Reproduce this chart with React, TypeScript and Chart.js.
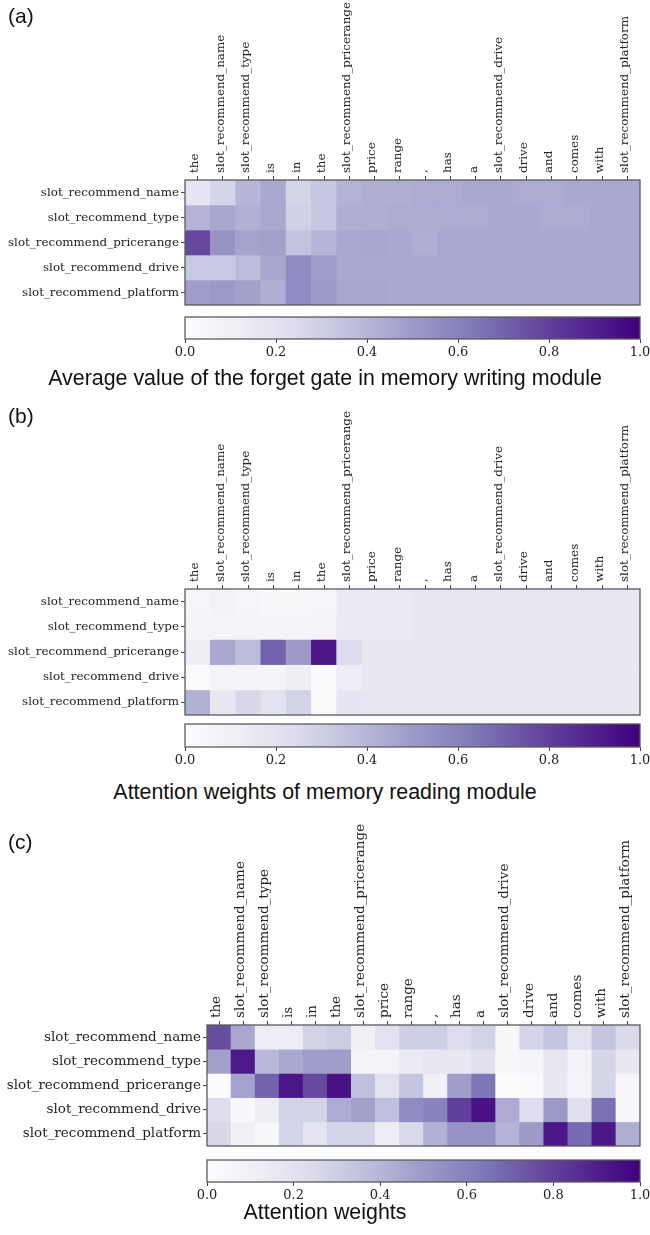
import React, { useEffect, useRef } from "react";
import { Chart, registerables } from "chart.js";
Chart.register(...registerables);

const columns = ["the", "slot_recommend_name", "slot_recommend_type", "is", "in", "the", "slot_recommend_pricerange", "price", "range", ",", "has", "a", "slot_recommend_drive", "drive", "and", "comes", "with", "slot_recommend_platform"];
const rows = ["slot_recommend_name", "slot_recommend_type", "slot_recommend_pricerange", "slot_recommend_drive", "slot_recommend_platform"];
const colorbarTicks = [0, 0.2, 0.4, 0.6, 0.8, 1.0];
const colorbarRange = [0, 1];

// (a) Average value of the forget gate in memory writing module
const forgetGate = [
  [0.18, 0.27, 0.40, 0.45, 0.27, 0.33, 0.41, 0.43, 0.43, 0.44, 0.44, 0.45, 0.45, 0.44, 0.44, 0.45, 0.45, 0.45],
  [0.41, 0.46, 0.42, 0.45, 0.29, 0.33, 0.43, 0.43, 0.44, 0.44, 0.44, 0.44, 0.45, 0.45, 0.44, 0.44, 0.45, 0.45],
  [0.78, 0.53, 0.47, 0.48, 0.35, 0.40, 0.45, 0.46, 0.45, 0.43, 0.45, 0.45, 0.45, 0.45, 0.45, 0.45, 0.45, 0.45],
  [0.32, 0.32, 0.38, 0.46, 0.56, 0.49, 0.45, 0.45, 0.45, 0.45, 0.45, 0.45, 0.45, 0.45, 0.45, 0.45, 0.45, 0.45],
  [0.49, 0.51, 0.48, 0.43, 0.56, 0.50, 0.46, 0.46, 0.45, 0.45, 0.45, 0.45, 0.45, 0.45, 0.45, 0.45, 0.45, 0.45],
];

// (b) Attention weights of memory reading module
const readingAttention = [
  [0.05, 0.08, 0.05, 0.04, 0.04, 0.05, 0.15, 0.15, 0.15, 0.16, 0.16, 0.16, 0.16, 0.16, 0.16, 0.16, 0.16, 0.16],
  [0.06, 0.06, 0.06, 0.06, 0.06, 0.07, 0.15, 0.15, 0.15, 0.16, 0.16, 0.16, 0.16, 0.16, 0.16, 0.16, 0.16, 0.16],
  [0.12, 0.45, 0.38, 0.70, 0.50, 0.93, 0.24, 0.17, 0.16, 0.16, 0.16, 0.16, 0.16, 0.16, 0.16, 0.16, 0.16, 0.16],
  [0.01, 0.07, 0.06, 0.06, 0.12, 0.02, 0.13, 0.16, 0.16, 0.16, 0.16, 0.16, 0.16, 0.16, 0.16, 0.16, 0.16, 0.16],
  [0.42, 0.16, 0.26, 0.20, 0.28, 0.03, 0.18, 0.17, 0.16, 0.16, 0.16, 0.16, 0.16, 0.16, 0.16, 0.16, 0.16, 0.16],
];

// (c) Attention weights
const attentionWeights = [
  [0.76, 0.45, 0.13, 0.13, 0.28, 0.31, 0.10, 0.20, 0.30, 0.30, 0.23, 0.28, 0.04, 0.27, 0.34, 0.20, 0.34, 0.25],
  [0.48, 0.92, 0.39, 0.45, 0.49, 0.49, 0.07, 0.07, 0.14, 0.17, 0.16, 0.22, 0.04, 0.06, 0.17, 0.08, 0.27, 0.16],
  [0.00, 0.47, 0.70, 0.93, 0.77, 0.94, 0.36, 0.20, 0.34, 0.10, 0.49, 0.64, 0.00, 0.03, 0.16, 0.07, 0.27, 0.05],
  [0.23, 0.04, 0.12, 0.28, 0.28, 0.44, 0.48, 0.36, 0.56, 0.60, 0.80, 0.94, 0.44, 0.23, 0.51, 0.22, 0.66, 0.05],
  [0.26, 0.10, 0.04, 0.27, 0.19, 0.27, 0.27, 0.13, 0.25, 0.42, 0.53, 0.53, 0.41, 0.50, 0.93, 0.68, 0.93, 0.43],
];

const purplesStops = ["#fcfbfd", "#efedf5", "#dadaeb", "#bcbddc", "#9e9ac8", "#807dba", "#6a51a3", "#54278f", "#3f007d"];

function hexToRgb(h: string) {
  return [parseInt(h.slice(1, 3), 16), parseInt(h.slice(3, 5), 16), parseInt(h.slice(5, 7), 16)];
}

function purples(v: number) {
  const t = Math.max(0, Math.min(1, v)) * (purplesStops.length - 1);
  const i = Math.min(Math.floor(t), purplesStops.length - 2);
  const f = t - i;
  const a = hexToRgb(purplesStops[i]);
  const b = hexToRgb(purplesStops[i + 1]);
  const c = a.map((x, k) => Math.round(x + (b[k] - x) * f));
  return `rgb(${c[0]},${c[1]},${c[2]})`;
}

const framePlugin = {
  id: "frame",
  afterDatasetsDraw(chart: any) {
    const { ctx, chartArea: a } = chart;
    ctx.save();
    ctx.strokeStyle = "#5a5a5a";
    ctx.lineWidth = 1.3;
    ctx.strokeRect(a.left, a.top, a.right - a.left, a.bottom - a.top);
    ctx.restore();
  },
};

const SERIF = "'DejaVu Serif', serif";
const SANS = "'Liberation Sans', Arial, sans-serif";

function Heatmap({ values, areaTop, areaLeft, areaBottom, fontSize, labelH, labelOffset }: any) {
  const ref = useRef<HTMLCanvasElement>(null);
  const canvasTop = areaTop - labelH;
  const height = areaBottom - canvasTop + 3;
  useEffect(() => {
    const chart = new Chart(ref.current!, {
      type: "bar",
      data: {
        labels: columns,
        datasets: rows.map((r, i) => ({
          label: r,
          data: columns.map(() => [i, i + 1]) as any,
          backgroundColor: values[i].map(purples),
          borderWidth: 0,
          grouped: false,
          barPercentage: 1,
          categoryPercentage: 1,
        })),
      },
      options: {
        responsive: false,
        animation: false,
        layout: { padding: { left: 0, top: 0, right: 10, bottom: 3 } },
        plugins: { legend: { display: false }, tooltip: { enabled: false } },
        scales: {
          x: {
            type: "category",
            position: "top",
            offset: true,
            grid: { offset: false, drawOnChartArea: false, tickLength: 4, color: "#444", lineWidth: 1 },
            border: { display: false },
            ticks: {
              autoSkip: false,
              minRotation: 90,
              maxRotation: 90,
              padding: 3,
              labelOffset,
              font: { family: SERIF, size: fontSize },
              color: "#222",
            },
            afterFit: (s: any) => {
              s.height = labelH;
              s.paddingLeft = 0;
              s.paddingRight = 0;
            },
          },
          y: {
            type: "linear",
            min: 0,
            max: rows.length,
            reverse: true,
            afterBuildTicks: (s: any) => {
              s.ticks = rows.map((_, i) => ({ value: i + 0.5 }));
            },
            ticks: {
              autoSkip: false,
              padding: 2,
              callback: (v: any) => rows[Math.floor(Number(v))],
              font: { family: SERIF, size: fontSize },
              color: "#222",
            },
            grid: { drawOnChartArea: false, tickLength: 4, color: "#444", lineWidth: 1 },
            border: { display: false },
            afterFit: (s: any) => {
              s.width = areaLeft;
              s.paddingTop = 0;
              s.paddingBottom = 0;
            },
          },
        },
      } as any,
      plugins: [framePlugin],
    });
    return () => chart.destroy();
  }, []);
  return (
    <canvas
      ref={ref}
      width={650}
      height={height}
      style={{ position: "absolute", left: 0, top: canvasTop, width: 650, height }}
    />
  );
}

function Colorbar({ left, top, bottom, fontSize }: any) {
  const ref = useRef<HTMLCanvasElement>(null);
  const canvasTop = top - 2;
  const axisH = 28;
  const height = bottom - top + 2 + axisH;
  useEffect(() => {
    const chart = new Chart(ref.current!, {
      type: "bar",
      data: {
        labels: [""],
        datasets: [
          {
            data: [colorbarRange] as any,
            backgroundColor: (ctx: any) => {
              const { chartArea, ctx: c } = ctx.chart;
              if (!chartArea) return purplesStops[0];
              const g = c.createLinearGradient(chartArea.left, 0, chartArea.right, 0);
              purplesStops.forEach((col, k) => g.addColorStop(k / (purplesStops.length - 1), col));
              return g;
            },
            borderWidth: 0,
            barPercentage: 1,
            categoryPercentage: 1,
          },
        ],
      },
      options: {
        indexAxis: "y",
        responsive: false,
        animation: false,
        layout: { padding: { left, top: 2, right: 10, bottom: 0 } },
        plugins: { legend: { display: false }, tooltip: { enabled: false } },
        scales: {
          x: {
            type: "linear",
            position: "bottom",
            min: colorbarRange[0],
            max: colorbarRange[1],
            afterBuildTicks: (s: any) => {
              s.ticks = colorbarTicks.map((v) => ({ value: v }));
            },
            ticks: {
              autoSkip: false,
              maxRotation: 0,
              padding: 2,
              callback: (v: any) => Number(v).toFixed(1),
              font: { family: SERIF, size: fontSize },
              color: "#222",
            },
            grid: { drawOnChartArea: false, tickLength: 4, color: "#444", lineWidth: 1 },
            border: { display: false },
            afterFit: (s: any) => {
              s.height = axisH;
              s.paddingLeft = 0;
              s.paddingRight = 0;
            },
          },
          y: { display: false },
        },
      } as any,
      plugins: [framePlugin],
    });
    return () => chart.destroy();
  }, []);
  return (
    <canvas
      ref={ref}
      width={650}
      height={height}
      style={{ position: "absolute", left: 0, top: canvasTop, width: 650, height }}
    />
  );
}

function Text({ children, x, y, size, center }: any) {
  return (
    <div
      style={{
        position: "absolute",
        left: center ? 0 : x,
        width: center ? 650 : undefined,
        textAlign: center ? "center" : "left",
        top: y - size * 0.6,
        fontFamily: SANS,
        fontSize: size,
        lineHeight: `${size * 1.2}px`,
        color: "#111",
        whiteSpace: "nowrap",
      }}
    >
      {children}
    </div>
  );
}

export default function App() {
  return (
    <div style={{ position: "absolute", left: 0, top: 0, width: 650, height: 1235, background: "#fff", overflow: "hidden" }}>
      <Heatmap values={forgetGate} areaTop={180} areaLeft={185} areaBottom={305} fontSize={11.9} labelH={180} labelOffset={12} />
      <Colorbar left={185} top={317} bottom={339} fontSize={13} />
      <Heatmap values={readingAttention} areaTop={589} areaLeft={185} areaBottom={715} fontSize={11.9} labelH={180} labelOffset={12} />
      <Colorbar left={185} top={724} bottom={747} fontSize={13} />
      <Heatmap values={attentionWeights} areaTop={1025} areaLeft={207} areaBottom={1146} fontSize={13.5} labelH={212} labelOffset={13.5} />
      <Colorbar left={207} top={1160} bottom={1182} fontSize={13} />
      <Text x={8} y={16} size={21}>(a)</Text>
      <Text center y={379} size={21.4}>Average value of the forget gate in memory writing module</Text>
      <Text x={8} y={416} size={21}>(b)</Text>
      <Text center y={793} size={21.4}>Attention weights of memory reading module</Text>
      <Text x={8} y={842} size={21}>(c)</Text>
      <Text center y={1213} size={21.4}>Attention weights</Text>
    </div>
  );
}
